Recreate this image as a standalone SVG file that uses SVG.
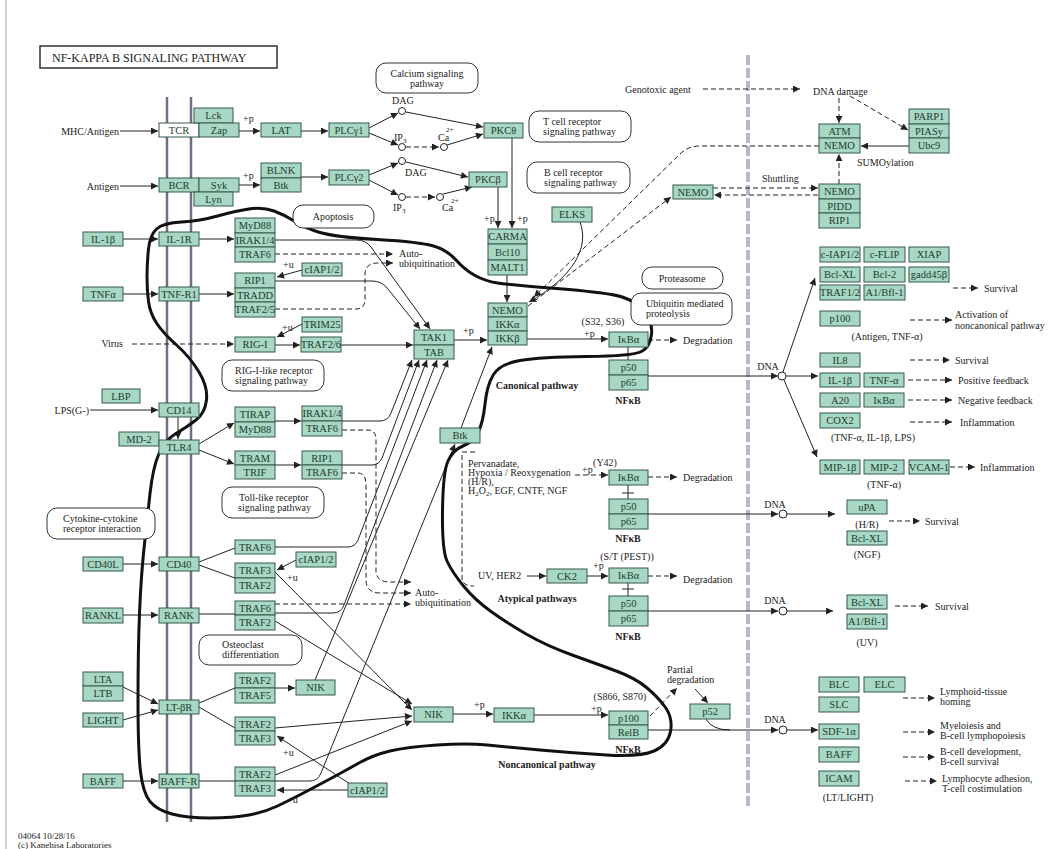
<svg xmlns="http://www.w3.org/2000/svg" width="1062" height="849" viewBox="0 0 1062 849">
<style>
.n rect{fill:#a8d8c4;stroke:#34594a;stroke-width:1}
.n rect.w{fill:#fff}
.n text{font-family:"Liberation Serif",serif;font-size:10.5px;fill:#1e3b30;text-anchor:middle}
.m rect{fill:#fff;stroke:#333;stroke-width:1}
.m text{font-family:"Liberation Serif",serif;font-size:10px;fill:#222}
.lb{font-family:"Liberation Serif",serif;font-size:10px;fill:#222}
.c{text-anchor:middle}
.b{font-weight:bold}
.s path{fill:none;stroke:#222;stroke-width:1}
.s path.d{stroke-dasharray:5,3}
.s circle{fill:#fff;stroke:#222;stroke-width:1}
</style>
<defs>
<marker id="a" viewBox="0 0 10 10" refX="10" refY="5" markerWidth="9" markerHeight="7" orient="auto" markerUnits="userSpaceOnUse"><path d="M0,0L10,5L0,10z" fill="#222"/></marker>
</defs>
<rect width="1062" height="849" fill="#fff"/>
<line x1="6" y1="0" x2="6" y2="849" stroke="#c4c4c4" stroke-width="1.5"/>
<g id="title"><rect x="40" y="46" width="237" height="22" fill="#fff" stroke="#333" stroke-width="1.5"/><text x="52" y="62" font-family="Liberation Serif,serif" font-size="12px" fill="#222">NF-KAPPA B SIGNALING PATHWAY</text></g>
<g id="membrane" stroke="#6e6e84" stroke-width="2.5"><line x1="167" y1="97" x2="167" y2="822"/><line x1="191" y1="97" x2="191" y2="822"/></g>
<line id="nucleus-border" x1="748" y1="55" x2="748" y2="808" stroke="#b4b8ca" stroke-width="4" stroke-dasharray="10,3"/>

<g id="connectors" class="s">
<path marker-end="url(#a)" d="M120,131H158"/>
<path marker-end="url(#a)" d="M239,131H260"/>
<path marker-end="url(#a)" d="M301,131H328"/>
<path marker-end="url(#a)" d="M369,128L398,113"/>
<path marker-end="url(#a)" d="M369,133L398,145"/>
<path marker-end="url(#a)" d="M447,145L483,134"/>
<path marker-end="url(#a)" d="M406,112L483,127"/>
<path class="d" marker-end="url(#a)" d="M406,147H439"/>
<circle cx="402" cy="111" r="3.5"/><circle cx="402" cy="147" r="3.5"/><circle cx="444" cy="147" r="3.5"/>
<path marker-end="url(#a)" d="M120,186H158"/>
<path marker-end="url(#a)" d="M239,185H260"/>
<path marker-end="url(#a)" d="M301,177H328"/>
<path marker-end="url(#a)" d="M369,175L398,163"/>
<path marker-end="url(#a)" d="M369,180L398,195"/>
<path marker-end="url(#a)" d="M406,162L468,177"/>
<path marker-end="url(#a)" d="M443,194L472,187"/>
<path class="d" marker-end="url(#a)" d="M406,197H435"/>
<circle cx="402" cy="161" r="3.5"/><circle cx="402" cy="197" r="3.5"/><circle cx="440" cy="197" r="3.5"/>
<path marker-end="url(#a)" d="M498,187V228"/>
<path marker-end="url(#a)" d="M512,138V228"/>
<path marker-end="url(#a)" d="M507,275V302"/>
<path marker-end="url(#a)" d="M580,222C590,248 572,278 529,302"/>
<path marker-end="url(#a)" d="M123,239H158"/>
<path marker-end="url(#a)" d="M199,239H234"/>
<path marker-end="url(#a)" d="M123,294H158"/>
<path marker-end="url(#a)" d="M199,294H234"/>
<path marker-end="url(#a)" d="M302,270L277,277"/>
<path marker-end="url(#a)" d="M302,324L277,337"/>
<path class="d" marker-end="url(#a)" d="M132,344H234"/>
<path marker-end="url(#a)" d="M275,345H300"/>
<path marker-end="url(#a)" d="M341,345H413"/>
<path marker-end="url(#a)" d="M275,240H356Q366,240 371,247L430,329"/>
<path marker-end="url(#a)" d="M275,281H372Q382,281 388,289L420,329"/>
<path class="d" marker-end="url(#a)" d="M275,254H393"/>
<path class="d" marker-end="url(#a)" d="M275,309H356Q365,309 365,299V273Q366,263 378,263H393"/>
<path marker-end="url(#a)" d="M454,340H487"/>
<path marker-end="url(#a)" d="M527,339H608"/>
<path class="d" marker-end="url(#a)" d="M648,340H677"/>
<path d="M628,347V360"/>
<path marker-end="url(#a)" d="M90,410H158"/>
<path marker-end="url(#a)" d="M178,417V439"/>
<path marker-end="url(#a)" d="M199,444L234,423"/>
<path marker-end="url(#a)" d="M199,450L234,464"/>
<path marker-end="url(#a)" d="M275,421H301"/>
<path marker-end="url(#a)" d="M275,465H301"/>
<path marker-end="url(#a)" d="M342,421H380Q388,421 391,413L412,360"/>
<path marker-end="url(#a)" d="M342,465H372Q379,465 382,458L419,360"/>
<path class="d" marker-end="url(#a)" d="M342,430H368Q376,430 376,440V572Q377,582 390,582H411"/>
<path class="d" marker-end="url(#a)" d="M342,473H358Q366,473 366,485V581Q367,593 380,593H411"/>
<path marker-end="url(#a)" d="M123,564H158"/>
<path d="M199,562L235,548"/>
<path d="M199,565L235,578"/>
<path marker-end="url(#a)" d="M296,560L277,570"/>
<path marker-end="url(#a)" d="M275,547H348Q355,547 358,540L427,360"/>
<path marker-end="url(#a)" d="M123,615H158"/>
<path d="M199,614H235"/>
<path marker-end="url(#a)" d="M275,613H333Q341,613 344,605L437,360"/>
<path class="d" marker-end="url(#a)" d="M275,604H411"/>
<path marker-end="url(#a)" d="M123,687L158,704"/>
<path marker-end="url(#a)" d="M123,720L158,710"/>
<path d="M199,703L235,688"/>
<path d="M199,707L235,728"/>
<path marker-end="url(#a)" d="M275,688H295"/>
<path marker-end="url(#a)" d="M315,680L448,360"/>
<path marker-end="url(#a)" d="M123,781H158"/>
<path d="M199,781H235"/>
<path marker-end="url(#a)" d="M275,781H310Q318,781 321,773L455,444"/>
<path marker-end="url(#a)" d="M461,428L492,347"/>
<path marker-end="url(#a)" d="M275,572L412,710"/>
<path marker-end="url(#a)" d="M275,621L412,704"/>
<path marker-end="url(#a)" d="M275,728L412,716"/>
<path marker-end="url(#a)" d="M275,775L412,721"/>
<path marker-end="url(#a)" d="M348,790H277"/>
<path marker-end="url(#a)" d="M350,784L277,736"/>
<path marker-end="url(#a)" d="M453,714H493"/>
<path marker-end="url(#a)" d="M534,715H608"/>
<path class="d" marker-end="url(#a)" d="M650,716L677,688"/>
<path marker-end="url(#a)" d="M695,689L708,703"/>
<path d="M706,719Q712,730 730,730"/>
<path class="d" d="M475,452H462V578Q462,586 474,586"/>
<path class="d" marker-end="url(#a)" d="M575,475H608"/>
<path class="d" marker-end="url(#a)" d="M648,477H677"/>
<path d="M628,485V499M622,493H634"/>
<path marker-end="url(#a)" d="M527,576H546"/>
<path marker-end="url(#a)" d="M587,576H608"/>
<path class="d" marker-end="url(#a)" d="M648,576H677"/>
<path d="M628,583V596M622,589H634"/>
<path class="d" marker-end="url(#a)" d="M703,89H800"/>
<path class="d" marker-end="url(#a)" d="M839,98V123"/>
<path class="d" marker-end="url(#a)" d="M850,96L908,130"/>
<path marker-end="url(#a)" d="M909,146H861"/>
<path class="d" marker-end="url(#a)" d="M839,184V154"/>
<path class="d" marker-end="url(#a)" d="M713,188H818"/>
<path class="d" marker-end="url(#a)" d="M818,195H714"/>
<path class="d" marker-end="url(#a)" d="M819,146H700Q688,146 680,154L534,297"/>
<path class="d" marker-end="url(#a)" d="M528,306L671,197"/>
<path marker-end="url(#a)" d="M648,376H778"/>
<circle cx="782" cy="376" r="4"/>
<path marker-end="url(#a)" d="M786,376H818"/>
<path marker-end="url(#a)" d="M783,372L815,278"/>
<path marker-end="url(#a)" d="M784,380L817,457"/>
<path marker-end="url(#a)" d="M648,514H778"/>
<circle cx="783" cy="514" r="4"/>
<path marker-end="url(#a)" d="M787,514H835"/>
<path marker-end="url(#a)" d="M648,611H778"/>
<circle cx="783" cy="611" r="4"/>
<path marker-end="url(#a)" d="M787,611H833"/>
<path marker-end="url(#a)" d="M648,730H778"/>
<circle cx="783" cy="730" r="4"/>
<path marker-end="url(#a)" d="M787,730H818"/>
<path class="d" marker-end="url(#a)" d="M953,288H978"/>
<path class="d" marker-end="url(#a)" d="M910,320H952"/>
<path class="d" marker-end="url(#a)" d="M910,360H950"/>
<path class="d" marker-end="url(#a)" d="M908,380H952"/>
<path class="d" marker-end="url(#a)" d="M908,400H952"/>
<path class="d" marker-end="url(#a)" d="M910,422H952"/>
<path class="d" marker-end="url(#a)" d="M950,467H975"/>
<path class="d" marker-end="url(#a)" d="M889,521H920"/>
<path class="d" marker-end="url(#a)" d="M895,606H928"/>
<path class="d" marker-end="url(#a)" d="M903,698H935"/>
<path class="d" marker-end="url(#a)" d="M903,732H935"/>
<path class="d" marker-end="url(#a)" d="M903,757H935"/>
<path class="d" marker-end="url(#a)" d="M905,781H937"/>
</g>

<path id="pathway-outline" fill="none" stroke="#111" stroke-width="3" stroke-linejoin="round" d="M148.5,301.5Q147,290 147,276.5Q147,263 148.5,249Q150,235 156.5,229Q163,223 181.5,222Q200,221 217.5,216Q235,211 249,209Q263,207 274,211Q285,215 295,221.5Q305,228 320,232.5Q335,237 377.5,239.5Q420,242 433.5,246Q447,250 456,260Q465,270 475,275.5Q485,281 497.5,283Q510,285 550,288Q590,291 611.5,294.5Q633,298 643,310Q653,322 651.5,334.5Q650,347 641.5,351.5Q633,356 586.5,356.5Q540,357 520,360.5Q500,364 493.5,374.5Q487,385 485,404Q483,423 478,432.5Q473,442 463,446Q453,450 448,461Q443,472 442.5,511Q442,550 447,561Q452,572 463.5,586Q475,600 491,611.5Q507,623 527,634.5Q547,646 573.5,655.5Q600,665 617.5,671.5Q635,678 646.5,687.5Q658,697 665.5,707.5Q673,718 670.5,731.5Q668,745 654,751Q640,757 606.5,755Q573,753 540,750Q507,747 487,745Q467,743 437,745Q407,747 390,751Q373,755 358,763.5Q343,772 328,780Q313,788 301.5,794Q290,800 277.5,806Q265,812 249,815Q233,818 210,818Q187,818 172,814Q157,810 150,801.5Q143,793 140.5,771.5Q138,750 138,700Q138,650 139.5,613.5Q141,577 144,548.5Q147,520 150,493.5Q153,467 159,453.5Q165,440 176,433.5Q187,427 196,420Q205,413 206.5,400Q208,387 199,372Q190,357 176.5,345Q163,333 156.5,323Q150,313 148.5,301.5Z"/>

<g id="maps" class="m">
<g id="map-calcium"><rect x="376" y="63" width="102" height="30" rx="10"/><text x="427" y="77" class="c">Calcium signaling</text><text x="427" y="87" class="c">pathway</text></g>
<g id="map-tcr"><rect x="529" y="111" width="102" height="31" rx="10"/><text x="543" y="125">T cell receptor</text><text x="543" y="135">signaling pathway</text></g>
<g id="map-bcr"><rect x="527" y="162" width="103" height="31" rx="10"/><text x="544" y="176">B cell receptor</text><text x="544" y="186">signaling pathway</text></g>
<g id="map-apoptosis"><rect x="293" y="205" width="81" height="23" rx="10"/><text x="333" y="220" class="c">Apoptosis</text></g>
<g id="map-proteasome"><rect x="642" y="267" width="81" height="22" rx="10"/><text x="682" y="282" class="c">Proteasome</text></g>
<g id="map-ubiquitin"><rect x="631" y="293" width="101" height="32" rx="10"/><text x="646" y="307">Ubiquitin mediated</text><text x="646" y="317">proteolysis</text></g>
<g id="map-rig"><rect x="222" y="360" width="102" height="31" rx="10"/><text x="235" y="374">RIG-I-like receptor</text><text x="235" y="384">signaling pathway</text></g>
<g id="map-toll"><rect x="222" y="487" width="102" height="31" rx="10"/><text x="239" y="501">Toll-like receptor</text><text x="238" y="511">signaling pathway</text></g>
<g id="map-cytokine"><rect x="47" y="508" width="108" height="31" rx="10"/><text x="63" y="522">Cytokine-cytokine</text><text x="63" y="532">receptor interaction</text></g>
<g id="map-osteoclast"><rect x="199" y="635" width="103" height="30" rx="10"/><text x="222" y="648">Osteoclast</text><text x="222" y="658">differentiation</text></g>
</g>

<g id="nodes" class="n">
<g id="tcr"><rect class="w" x="159" y="123" width="40" height="14"/><text x="179" y="134">TCR</text></g>
<g id="lck-zap"><rect x="194" y="108" width="39" height="15"/><text x="213.5" y="119">Lck</text><rect x="199" y="123" width="40" height="14"/><text x="219" y="134">Zap</text></g>
<g id="lat"><rect x="261" y="123" width="40" height="14"/><text x="281" y="134">LAT</text></g>
<g id="plcg1"><rect x="329" y="123" width="40" height="14"/><text x="349" y="134">PLCγ1</text></g>
<g id="bcr"><rect x="159" y="178" width="40" height="14"/><text x="179" y="189">BCR</text></g>
<g id="syk-lyn"><rect x="199" y="178" width="40" height="14"/><text x="219" y="189">Syk</text><rect x="194" y="192" width="39" height="14"/><text x="213.5" y="203">Lyn</text></g>
<g id="blnk-btk"><rect x="261" y="163" width="40" height="15"/><text x="281" y="174">BLNK</text><rect x="261" y="178" width="40" height="14"/><text x="281" y="189">Btk</text></g>
<g id="plcg2"><rect x="329" y="170" width="40" height="15"/><text x="349" y="181">PLCγ2</text></g>
<g id="pkct"><rect x="484" y="123" width="39" height="15"/><text x="503.5" y="134">PKCθ</text></g>
<g id="pkcb"><rect x="469" y="172" width="38" height="15"/><text x="488" y="183">PKCβ</text></g>
<g id="carma"><rect x="488" y="229" width="39" height="15"/><text x="507.5" y="240">CARMA</text><rect x="488" y="244" width="39" height="16"/><text x="507.5" y="256">Bcl10</text><rect x="488" y="260" width="39" height="15"/><text x="507.5" y="271">MALT1</text></g>
<g id="elks"><rect x="552" y="207" width="40" height="15"/><text x="572" y="218">ELKS</text></g>
<g id="ikk"><rect x="488" y="303" width="39" height="14"/><text x="507.5" y="314">NEMO</text><rect x="488" y="317" width="39" height="14"/><text x="507.5" y="328">IKKα</text><rect x="488" y="331" width="39" height="14"/><text x="507.5" y="342">IKKβ</text></g>
<g id="tak1"><rect x="414" y="330" width="40" height="15"/><text x="434" y="341">TAK1</text><rect x="414" y="345" width="40" height="14"/><text x="434" y="356">TAB</text></g>
<g id="il1b"><rect x="83" y="232" width="40" height="14"/><text x="103" y="243">IL-1β</text></g>
<g id="il1r"><rect x="159" y="232" width="40" height="14"/><text x="179" y="243">IL-1R</text></g>
<g id="myd88-1"><rect x="235" y="218" width="40" height="15"/><text x="255" y="229">MyD88</text><rect x="235" y="233" width="40" height="14"/><text x="255" y="244">IRAK1/4</text><rect x="235" y="247" width="40" height="15"/><text x="255" y="258">TRAF6</text></g>
<g id="tnfa"><rect x="83" y="287" width="40" height="14"/><text x="103" y="298">TNFα</text></g>
<g id="tnfr1"><rect x="159" y="287" width="40" height="14"/><text x="179" y="298">TNF-R1</text></g>
<g id="rip1-1"><rect x="235" y="273" width="40" height="15"/><text x="255" y="284">RIP1</text><rect x="235" y="288" width="40" height="14"/><text x="255" y="299">TRADD</text><rect x="235" y="302" width="40" height="15"/><text x="255" y="313">TRAF2/5</text></g>
<g id="ciap-1"><rect x="302" y="263" width="40" height="13"/><text x="322" y="273">cIAP1/2</text></g>
<g id="trim25"><rect x="302" y="317" width="40" height="15"/><text x="322" y="328">TRIM25</text></g>
<g id="rigi"><rect x="235" y="337" width="40" height="15"/><text x="255" y="348">RIG-I</text></g>
<g id="traf26"><rect x="301" y="337" width="40" height="15"/><text x="321" y="348">TRAF2/6</text></g>
<g id="lbp"><rect x="102" y="389" width="38" height="14"/><text x="121" y="400">LBP</text></g>
<g id="cd14"><rect x="159" y="403" width="40" height="14"/><text x="179" y="414">CD14</text></g>
<g id="md2"><rect x="119" y="432" width="40" height="14"/><text x="139" y="443">MD-2</text></g>
<g id="tlr4"><rect x="159" y="440" width="40" height="14"/><text x="179" y="451">TLR4</text></g>
<g id="tirap"><rect x="235" y="407" width="40" height="15"/><text x="255" y="418">TIRAP</text><rect x="235" y="422" width="40" height="15"/><text x="255" y="433">MyD88</text></g>
<g id="irak-2"><rect x="302" y="406" width="40" height="15"/><text x="322" y="417">IRAK1/4</text><rect x="302" y="421" width="40" height="15"/><text x="322" y="432">TRAF6</text></g>
<g id="tram"><rect x="235" y="451" width="40" height="14"/><text x="255" y="462">TRAM</text><rect x="235" y="465" width="40" height="14"/><text x="255" y="476">TRIF</text></g>
<g id="rip1-2"><rect x="302" y="451" width="40" height="14"/><text x="322" y="462">RIP1</text><rect x="302" y="465" width="40" height="14"/><text x="322" y="476">TRAF6</text></g>
<g id="cd40l"><rect x="83" y="557" width="40" height="14"/><text x="103" y="568">CD40L</text></g>
<g id="cd40"><rect x="159" y="557" width="40" height="14"/><text x="179" y="568">CD40</text></g>
<g id="traf6-cd40"><rect x="235" y="540" width="40" height="14"/><text x="255" y="551">TRAF6</text></g>
<g id="traf3-cd40"><rect x="235" y="563" width="40" height="15"/><text x="255" y="574">TRAF3</text><rect x="235" y="578" width="40" height="15"/><text x="255" y="589">TRAF2</text></g>
<g id="ciap-2"><rect x="296" y="552" width="40" height="15"/><text x="316" y="563">cIAP1/2</text></g>
<g id="rankl"><rect x="83" y="608" width="40" height="15"/><text x="103" y="619">RANKL</text></g>
<g id="rank"><rect x="159" y="608" width="40" height="15"/><text x="179" y="619">RANK</text></g>
<g id="traf6-rank"><rect x="235" y="601" width="40" height="14"/><text x="255" y="612">TRAF6</text><rect x="235" y="615" width="40" height="15"/><text x="255" y="626">TRAF2</text></g>
<g id="lta"><rect x="83" y="672" width="40" height="14"/><text x="103" y="683">LTA</text><rect x="83" y="686" width="40" height="15"/><text x="103" y="697">LTB</text></g>
<g id="light"><rect x="83" y="713" width="40" height="14"/><text x="103" y="724">LIGHT</text></g>
<g id="ltbr"><rect x="159" y="700" width="40" height="14"/><text x="179" y="711">LT-βR</text></g>
<g id="traf25"><rect x="235" y="673" width="40" height="15"/><text x="255" y="684">TRAF2</text><rect x="235" y="688" width="40" height="15"/><text x="255" y="699">TRAF5</text></g>
<g id="nik-1"><rect x="296" y="680" width="39" height="15"/><text x="315.5" y="691">NIK</text></g>
<g id="traf23-lt"><rect x="235" y="717" width="40" height="14"/><text x="255" y="728">TRAF2</text><rect x="235" y="731" width="40" height="14"/><text x="255" y="742">TRAF3</text></g>
<g id="baff"><rect x="83" y="774" width="40" height="14"/><text x="103" y="785">BAFF</text></g>
<g id="baffr"><rect x="159" y="774" width="40" height="14"/><text x="179" y="785">BAFF-R</text></g>
<g id="traf23-baff"><rect x="235" y="767" width="40" height="14"/><text x="255" y="778">TRAF2</text><rect x="235" y="781" width="40" height="15"/><text x="255" y="792">TRAF3</text></g>
<g id="ciap-3"><rect x="348" y="783" width="39" height="14"/><text x="367.5" y="794">cIAP1/2</text></g>
<g id="nik-2"><rect x="414" y="707" width="39" height="15"/><text x="433.5" y="718">NIK</text></g>
<g id="ikka"><rect x="494" y="708" width="40" height="14"/><text x="514" y="719">IKKα</text></g>
<g id="btk"><rect x="440" y="428" width="40" height="15"/><text x="460" y="439">Btk</text></g>
<g id="ikba-1"><rect x="609" y="332" width="39" height="15"/><text x="628.5" y="343">IκBα</text></g>
<g id="nfkb-1"><rect x="609" y="360" width="39" height="15"/><text x="628.5" y="371">p50</text><rect x="609" y="375" width="39" height="15"/><text x="628.5" y="386">p65</text></g>
<g id="ikba-2"><rect x="609" y="470" width="39" height="15"/><text x="628.5" y="481">IκBα</text></g>
<g id="nfkb-2"><rect x="609" y="499" width="39" height="15"/><text x="628.5" y="510">p50</text><rect x="609" y="514" width="39" height="15"/><text x="628.5" y="525">p65</text></g>
<g id="ck2"><rect x="547" y="569" width="40" height="14"/><text x="567" y="580">CK2</text></g>
<g id="ikba-3"><rect x="609" y="568" width="39" height="15"/><text x="628.5" y="579">IκBα</text></g>
<g id="nfkb-3"><rect x="609" y="596" width="39" height="15"/><text x="628.5" y="607">p50</text><rect x="609" y="611" width="39" height="15"/><text x="628.5" y="622">p65</text></g>
<g id="nfkb-4"><rect x="609" y="711" width="39" height="14"/><text x="628.5" y="722">p100</text><rect x="609" y="725" width="39" height="14"/><text x="628.5" y="736">RelB</text></g>
<g id="p52"><rect x="690" y="704" width="40" height="15"/><text x="710" y="715">p52</text></g>
<g id="nemo-shuttle"><rect x="673" y="185" width="40" height="14"/><text x="693" y="196">NEMO</text></g>
<g id="atm"><rect x="819" y="124" width="41" height="14"/><text x="839.5" y="135">ATM</text><rect x="819" y="138" width="41" height="15"/><text x="839.5" y="149">NEMO</text></g>
<g id="parp1"><rect x="909" y="109" width="40" height="15"/><text x="929" y="120">PARP1</text><rect x="909" y="124" width="40" height="14"/><text x="929" y="135">PIASy</text><rect x="909" y="138" width="40" height="15"/><text x="929" y="149">Ubc9</text></g>
<g id="nemo-pidd"><rect x="819" y="184" width="41" height="15"/><text x="839.5" y="195">NEMO</text><rect x="819" y="199" width="41" height="14"/><text x="839.5" y="210">PIDD</text><rect x="819" y="213" width="41" height="15"/><text x="839.5" y="224">RIP1</text></g>
<g id="survival-genes"><rect x="820" y="247" width="40" height="15"/><text x="840" y="258">c-IAP1/2</text><rect x="864" y="247" width="41" height="15"/><text x="884.5" y="258">c-FLIP</text><rect x="909" y="247" width="40" height="15"/><text x="929" y="258">XIAP</text><rect x="820" y="267" width="40" height="15"/><text x="840" y="278">Bcl-XL</text><rect x="864" y="267" width="41" height="15"/><text x="884.5" y="278">Bcl-2</text><rect x="909" y="267" width="40" height="15"/><text x="929" y="278">gadd45β</text><rect x="820" y="285" width="40" height="15"/><text x="840" y="296">TRAF1/2</text><rect x="864" y="285" width="41" height="15"/><text x="884.5" y="296">A1/Bfl-1</text></g>
<g id="p100-target"><rect x="820" y="311" width="40" height="15"/><text x="840" y="322">p100</text></g>
<g id="il8"><rect x="820" y="353" width="40" height="14"/><text x="840" y="364">IL8</text></g>
<g id="il1b-tnfa"><rect x="820" y="373" width="40" height="14"/><text x="840" y="384">IL-1β</text><rect x="864" y="373" width="40" height="14"/><text x="884" y="384">TNF-α</text></g>
<g id="a20-ikba"><rect x="820" y="393" width="40" height="14"/><text x="840" y="404">A20</text><rect x="864" y="393" width="40" height="14"/><text x="884" y="404">IκBα</text></g>
<g id="cox2"><rect x="820" y="413" width="40" height="15"/><text x="840" y="424">COX2</text></g>
<g id="mip"><rect x="820" y="460" width="40" height="14"/><text x="840" y="471">MIP-1β</text><rect x="864" y="460" width="40" height="14"/><text x="884" y="471">MIP-2</text><rect x="909" y="460" width="40" height="14"/><text x="929" y="471">VCAM-1</text></g>
<g id="upa"><rect x="847" y="500" width="40" height="14"/><text x="867" y="511">uPA</text></g>
<g id="bclxl-ngf"><rect x="847" y="531" width="40" height="14"/><text x="867" y="542">Bcl-XL</text></g>
<g id="bclxl-uv"><rect x="847" y="595" width="40" height="14"/><text x="867" y="606">Bcl-XL</text><rect x="847" y="614" width="40" height="15"/><text x="867" y="625">A1/Bfl-1</text></g>
<g id="blc-elc"><rect x="819" y="677" width="40" height="15"/><text x="839" y="688">BLC</text><rect x="864" y="677" width="41" height="15"/><text x="884.5" y="688">ELC</text></g>
<g id="slc"><rect x="819" y="697" width="40" height="15"/><text x="839" y="708">SLC</text></g>
<g id="sdf1a"><rect x="819" y="724" width="40" height="15"/><text x="839" y="735">SDF-1α</text></g>
<g id="baff-target"><rect x="819" y="747" width="40" height="15"/><text x="839" y="758">BAFF</text></g>
<g id="icam"><rect x="819" y="771" width="40" height="15"/><text x="839" y="782">ICAM</text></g>
</g>

<g id="labels" class="lb">
<text x="119" y="135" text-anchor="end">MHC/Antigen</text>
<text x="119" y="190" text-anchor="end">Antigen</text>
<text x="123" y="347" text-anchor="end">Virus</text>
<text x="89" y="414" text-anchor="end">LPS(G-)</text>
<text x="243" y="122">+p</text>
<text x="243" y="179">+p</text>
<text x="392" y="104">DAG</text>
<text x="394" y="141">IP<tspan font-size="7" dy="2">3</tspan></text>
<text x="438" y="141">Ca</text><text x="446" y="132" font-size="7">2+</text>
<text x="405" y="176">DAG</text>
<text x="393" y="211">IP<tspan font-size="7" dy="2">3</tspan></text>
<text x="442" y="211">Ca</text><text x="451" y="203" font-size="7">2+</text>
<text x="484" y="222">+p</text>
<text x="517" y="222">+p</text>
<text x="283" y="268">+u</text>
<text x="282" y="331">+u</text>
<text x="399" y="257">Auto-</text>
<text x="399" y="267">ubiquitination</text>
<text x="463" y="334">+p</text>
<text x="603" y="325" class="c">(S32, S36)</text>
<text x="584" y="337">+p</text>
<text x="683" y="344">Degradation</text>
<text x="628" y="404" class="c b">NFκB</text>
<text x="537" y="389" class="c b">Canonical pathway</text>
<text x="468" y="467">Pervanadate,</text>
<text x="468" y="476">Hypoxia / Reoxygenation</text>
<text x="468" y="485">(H/R),</text>
<text x="468" y="494">H<tspan font-size="7" dy="2">2</tspan><tspan dy="-2">O</tspan><tspan font-size="7" dy="2">2</tspan><tspan dy="-2">, EGF, CNTF, NGF</tspan></text>
<text x="605" y="466" class="c">(Y42)</text>
<text x="582" y="473">+p</text>
<text x="683" y="481">Degradation</text>
<text x="628" y="542" class="c b">NFκB</text>
<text x="627" y="560" class="c">(S/T (PEST))</text>
<text x="593" y="569">+p</text>
<text x="478" y="579">UV, HER2</text>
<text x="683" y="583">Degradation</text>
<text x="537" y="602" class="c b">Atypical pathways</text>
<text x="628" y="640" class="c b">NFκB</text>
<text x="287" y="581">+u</text>
<text x="415" y="596">Auto-</text>
<text x="415" y="606">ubiquitination</text>
<text x="283" y="756">+u</text>
<text x="287" y="803">+u</text>
<text x="474" y="708">+p</text>
<text x="591" y="712">+p</text>
<text x="620" y="700" class="c">(S866, S870)</text>
<text x="628" y="753" class="c b">NFκB</text>
<text x="547" y="768" class="c b">Noncanonical pathway</text>
<text x="667" y="673">Partial</text>
<text x="667" y="683">degradation</text>
<text x="625" y="93">Genotoxic agent</text>
<text x="813" y="95">DNA damage</text>
<text x="857" y="166">SUMOylation</text>
<text x="762" y="182">Shuttling</text>
<text x="768" y="370" class="c">DNA</text>
<text x="775" y="508" class="c">DNA</text>
<text x="775" y="604" class="c">DNA</text>
<text x="775" y="723" class="c">DNA</text>
<text x="984" y="292">Survival</text>
<text x="887" y="340" class="c">(Antigen, TNF-α)</text>
<text x="955" y="318">Activation of</text>
<text x="955" y="329">noncanonical pathway</text>
<text x="955" y="364">Survival</text>
<text x="958" y="384">Positive feedback</text>
<text x="958" y="404">Negative feedback</text>
<text x="960" y="426">Inflammation</text>
<text x="873" y="441" class="c">(TNF-α, IL-1β, LPS)</text>
<text x="980" y="471">Inflammation</text>
<text x="884" y="488" class="c">(TNF-α)</text>
<text x="867" y="528" class="c">(H/R)</text>
<text x="925" y="525">Survival</text>
<text x="867" y="558" class="c">(NGF)</text>
<text x="935" y="610">Survival</text>
<text x="867" y="646" class="c">(UV)</text>
<text x="940" y="695">Lymphoid-tissue</text>
<text x="940" y="705">homing</text>
<text x="940" y="729">Myeloiesis and</text>
<text x="940" y="739">B-cell lymphopoiesis</text>
<text x="940" y="755">B-cell development,</text>
<text x="940" y="765">B-cell survival</text>
<text x="942" y="782">Lymphocyte adhesion,</text>
<text x="942" y="792">T-cell costimulation</text>
<text x="848" y="801" class="c">(LT/LIGHT)</text>
<text x="18" y="839" font-size="9">04064 10/28/16</text>
<text x="18" y="848" font-size="9">(c) Kanehisa Laboratories</text>
</g>
</svg>
